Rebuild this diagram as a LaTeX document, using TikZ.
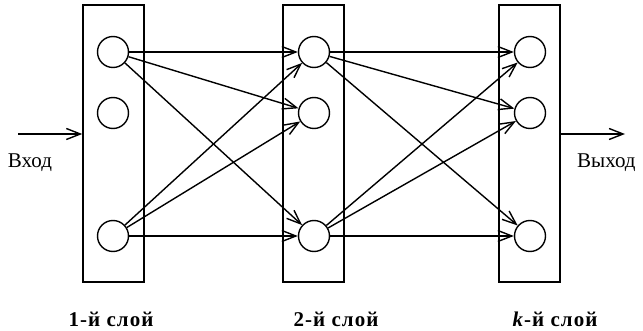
\documentclass[tikz,border=0pt]{standalone}
\usepackage{fontspec}
\setmainfont{Liberation Serif}
\usetikzlibrary{arrows.meta}

\tikzset{
  sloj/.style={draw, line width=1.5pt, minimum width=61pt, minimum height=277pt, inner sep=0pt},
  nejron/.style={draw, circle, line width=1.4pt, minimum size=31pt, inner sep=0pt, fill=white},
  svjaz/.style={line width=1.4pt, -{Straight Barb[length=14pt, width=11pt, line width=1.4pt]}},
  podpis/.style={font=\fontsize{21}{24}\selectfont},
  podpissloja/.style={font=\fontsize{21}{24}\selectfont\bfseries\addfontfeatures{LetterSpace=5}}
}

\begin{document}
\begin{tikzpicture}[x=1pt, y=-1pt]
\useasboundingbox (0,0) rectangle (643,331);

% Sloi
\node[sloj] (sloj1) at (113.5,143.5) {};
\node[sloj] (sloj2) at (313.5,143.5) {};
\node[sloj] (sloj3) at (529.5,143.5) {};

% Nejrony
\node[nejron] (a1) at (113,52) {};
\node[nejron] (a2) at (113,113) {};
\node[nejron] (a3) at (113,236) {};
\node[nejron] (b1) at (314,52) {};
\node[nejron] (b2) at (314,113) {};
\node[nejron] (b3) at (314,236) {};
\node[nejron] (c1) at (530,52) {};
\node[nejron] (c2) at (530,113) {};
\node[nejron] (c3) at (530,236) {};

% Svjazi
\draw[svjaz] (a1) -- (b1);
\draw[svjaz] (a1) -- (b2);
\draw[svjaz] (a1) -- (b3);
\draw[svjaz] (a3) -- (b1);
\draw[svjaz] (a3) -- (b2);
\draw[svjaz] (a3) -- (b3);
\draw[svjaz] (b1) -- (c1);
\draw[svjaz] (b1) -- (c2);
\draw[svjaz] (b1) -- (c3);
\draw[svjaz] (b3) -- (c1);
\draw[svjaz] (b3) -- (c2);
\draw[svjaz] (b3) -- (c3);

% Vhod i vyhod
\coordinate (vhod) at (18,134);
\coordinate (vyhod) at (625,134);
\draw[svjaz] (vhod) -- (vhod -| sloj1.west);
\draw[svjaz] (vyhod -| sloj3.east) -- (vyhod);
\node[podpis] (tvhod) at (30,163) {Вход};
\node[podpis, anchor=west, inner sep=0pt] (tvyhod) at (577,163) {Выход};

% Podpisi sloev
\node[podpissloja] (p1) at (111,319) {1-й слой};
\node[podpissloja] (p2) at (336,319) {2-й слой};
\node[podpissloja] (p3) at (555,319) {\textit{k}-й слой};

\end{tikzpicture}
\end{document}
